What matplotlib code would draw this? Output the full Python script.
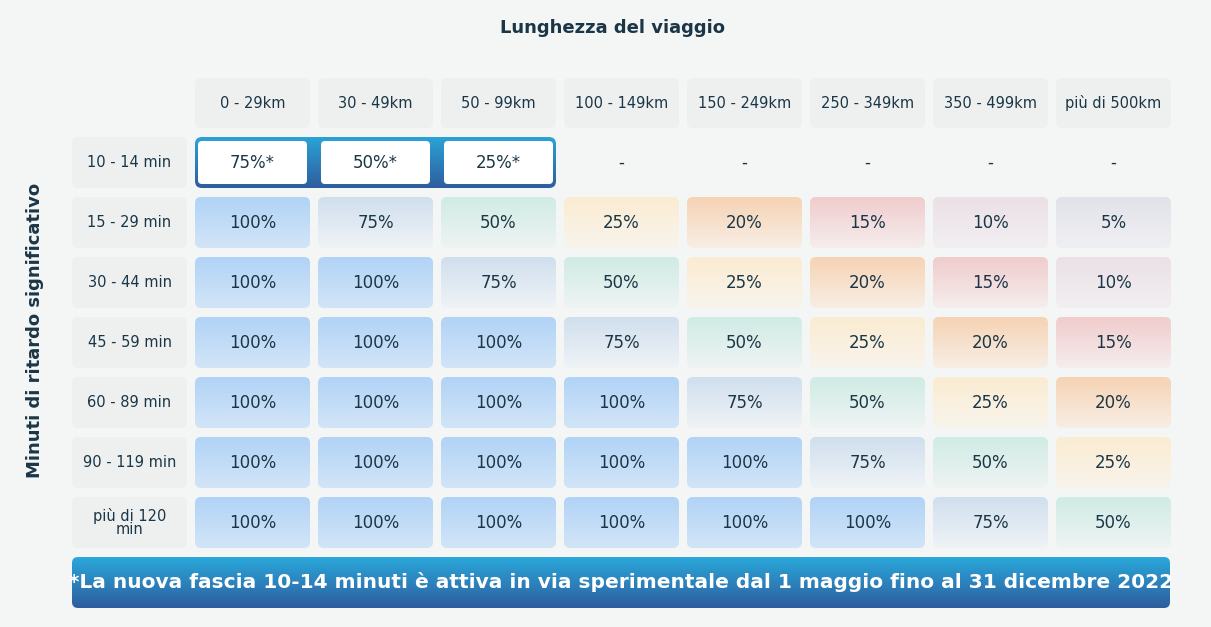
import matplotlib.pyplot as plt
import numpy as np
from matplotlib.patches import FancyBboxPatch

# data
distances = ["0 - 29km", "30 - 49km", "50 - 99km", "100 - 149km", "150 - 249km",
             "250 - 349km", "350 - 499km", "più di 500km"]
delays = ["10 - 14 min", "15 - 29 min", "30 - 44 min", "45 - 59 min",
          "60 - 89 min", "90 - 119 min", "più di 120\nmin"]
row_10_14 = ["75%*", "50%*", "25%*", "-", "-", "-", "-", "-"]
refunds = [
    [100, 75, 50, 25, 20, 15, 10, 5],
    [100, 100, 75, 50, 25, 20, 15, 10],
    [100, 100, 100, 75, 50, 25, 20, 15],
    [100, 100, 100, 100, 75, 50, 25, 20],
    [100, 100, 100, 100, 100, 75, 50, 25],
    [100, 100, 100, 100, 100, 100, 75, 50],
]
note = "*La nuova fascia 10-14 minuti è attiva in via sperimentale dal 1 maggio fino al 31 dicembre 2022"

# gradient colours per value (top, bottom)
palette = {
    100: ("#b1d3f6", "#d2e5f8"),
    75: ("#d0dfee", "#eff3f6"),
    50: ("#d0ebe5", "#eef4f3"),
    25: ("#fbecd2", "#f8f4ec"),
    20: ("#f6d3b4", "#f8eee5"),
    15: ("#f0cccd", "#f6eded"),
    10: ("#ebe0e6", "#f2eff2"),
    5: ("#e2e2ea", "#efeff3"),
}
txt = "#1b3646"
bg = "#f4f6f6"
cellbg = "#eef0f0"

fig = plt.figure(figsize=(12.11, 6.27), dpi=100, facecolor=bg)
ax = fig.add_axes([0, 0, 1, 1])
ax.set_xlim(0, 1211)
ax.set_ylim(627, 0)
ax.axis("off")


def hexrgb(h):
    h = h.lstrip("#")
    return np.array([int(h[i:i + 2], 16) / 255 for i in (0, 2, 4)])


def grad_box(x, y, w, h, c1, c2, r=6, z=2):
    patch = FancyBboxPatch((x, y), w, h, boxstyle=f"round,pad=0,rounding_size={r}",
                           fc="none", ec="none", zorder=z)
    ax.add_patch(patch)
    t = np.linspace(0, 1, 64)[:, None]
    img = hexrgb(c1)[None, None, :] * (1 - t[..., None]) + hexrgb(c2)[None, None, :] * t[..., None]
    img = np.repeat(img, 2, axis=1)
    im = ax.imshow(img, extent=(x, x + w, y + h, y), aspect="auto", zorder=z)
    im.set_clip_path(patch)


def flat_box(x, y, w, h, fc, r=6, z=2):
    ax.add_patch(FancyBboxPatch((x, y), w, h, boxstyle=f"round,pad=0,rounding_size={r}",
                                fc=fc, ec="none", zorder=z))


col_x = [195 + 123 * i for i in range(8)]
cw, ch = 115, 51
row_y = [137 + 60 * i for i in range(7)]

ax.text(612, 28, "Lunghezza del viaggio", ha="center", va="center",
        fontsize=13, fontweight="bold", color=txt)
ax.text(35, 330, "Minuti di ritardo significativo", ha="center", va="center",
        rotation=90, fontsize=13, fontweight="bold", color=txt)

for x, lab in zip(col_x, distances):
    flat_box(x, 78, cw, 50, cellbg)
    ax.text(x + cw / 2, 103, lab, ha="center", va="center", fontsize=10.5, color=txt, zorder=5)

for y, lab in zip(row_y, delays):
    flat_box(72, y, 115, ch, cellbg)
    ax.text(129.5, y + ch / 2, lab, ha="center", va="center", fontsize=10.5,
            color=txt, linespacing=0.9, zorder=5)

# highlighted 10-14 row
grad_box(195, 137, 361, 51, "#2aa3d6", "#2f5d9e", r=7)
for i, v in enumerate(row_10_14):
    x = col_x[i]
    if i < 3:
        flat_box(x + 3, 141, cw - 6, 43, "white", r=4, z=3)
    ax.text(x + cw / 2, 162.5, v, ha="center", va="center", fontsize=12, color=txt, zorder=5)

for r, vals in enumerate(refunds):
    y = row_y[r + 1]
    for i, v in enumerate(vals):
        c1, c2 = palette[v]
        grad_box(col_x[i], y, cw, ch, c1, c2)
        ax.text(col_x[i] + cw / 2, y + ch / 2, f"{v}%", ha="center", va="center",
                fontsize=12, color=txt, zorder=5)

# bottom banner
grad_box(72, 557, 1098, 51, "#2aa8da", "#2e5d9f", r=6)
ax.text(621, 582.5, note, ha="center", va="center", fontsize=14.5,
        fontweight="bold", color="white", zorder=5)

fig.savefig("out.png", dpi=100, facecolor=bg)
